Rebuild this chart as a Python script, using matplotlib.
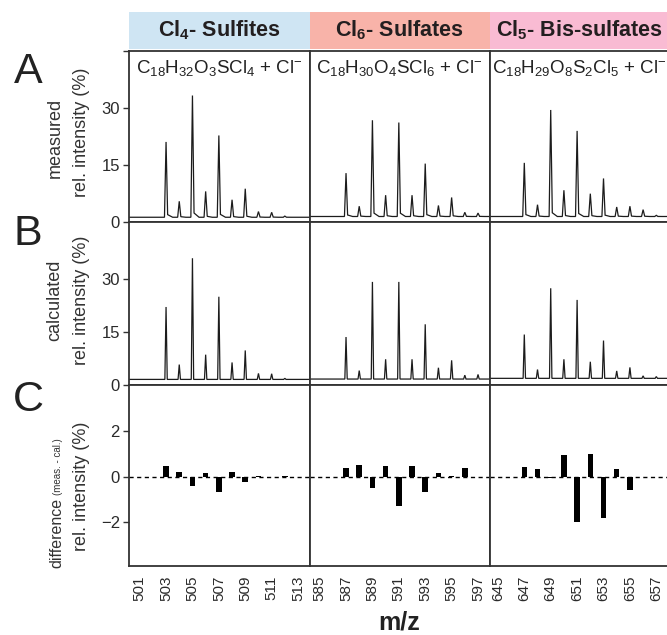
import matplotlib
matplotlib.use('Agg')
import matplotlib.pyplot as plt
from matplotlib.patches import Rectangle

# isotope clusters: m/z of each peak, measured and calculated rel. intensity (%)
mz_sulfites = [503, 504, 505, 506, 507, 508, 509, 510, 511, 512]
meas_sulfites = [21.1, 5.5, 33.3, 8.1, 22.8, 5.9, 8.8, 2.8, 2.6, 1.6]
calc_sulfites = [22.0, 5.7, 35.8, 8.5, 24.9, 6.3, 9.7, 3.2, 3.1, 1.8]
diff_sulfites = [0.49, 0.22, -0.41, 0.19, -0.66, 0.20, -0.24, 0.06, 0.0, 0.04]

mz_sulfates = [587, 588, 589, 590, 591, 592, 593, 594, 595, 596, 597]
meas_sulfates = [12.9, 4.2, 26.8, 7.1, 26.2, 7.1, 15.4, 4.4, 6.5, 2.6, 2.4]
calc_sulfates = [13.5, 4.0, 29.1, 7.2, 29.1, 7.2, 17.1, 4.8, 6.9, 2.7, 2.9]
diff_sulfates = [0.41, 0.52, -0.47, 0.46, -1.27, 0.49, -0.68, 0.18, 0.02, 0.37]

mz_bis = [647, 648, 649, 650, 651, 652, 653, 654, 655, 656, 657]
meas_bis = [15.6, 4.6, 29.5, 8.4, 24.0, 7.5, 11.5, 4.0, 4.2, 3.3, 1.8]
calc_bis = [14.2, 4.3, 27.3, 7.2, 24.0, 6.5, 12.5, 3.9, 4.9, 2.5, 2.3]
diff_bis = [0.44, 0.34, -0.06, 0.96, -1.99, 0.99, -1.80, 0.34, -0.56]

# spectrum baselines (rel. intensity %)
meas_base = [1.3, 1.5, 1.5]
calc_base = [1.5, 1.6, 1.8]

group_titles = [r'Cl$_\mathbf{4}$- Sulfites', r'Cl$_\mathbf{6}$- Sulfates',
                r'Cl$_\mathbf{5}$- Bis-sulfates']
formulas = [r'C$_{18}$H$_{32}$O$_3$SCl$_4$ + Cl$^{-}$',
            r'C$_{18}$H$_{30}$O$_4$SCl$_6$ + Cl$^{-}$',
            r'C$_{18}$H$_{29}$O$_8$S$_2$Cl$_5$ + Cl$^{-}$']
tick_sets = [list(range(501, 514, 2)), list(range(585, 598, 2)), list(range(645, 658, 2))]

mz_all = [mz_sulfites, mz_sulfates, mz_bis]
meas_all = [meas_sulfites, meas_sulfates, meas_bis]
calc_all = [calc_sulfites, calc_sulfates, calc_bis]
diff_all = [diff_sulfites, diff_sulfates, diff_bis]

header_colors = ['#cfe5f3', '#f8b3a9', '#f9bbd3']

FONT = 'Liberation Sans'
plt.rcParams['font.family'] = FONT
plt.rcParams['mathtext.fontset'] = 'custom'
plt.rcParams['mathtext.rm'] = FONT
plt.rcParams['mathtext.it'] = FONT + ':italic'
plt.rcParams['mathtext.bf'] = FONT + ':bold'

W, H = 667, 635
INK = '#333333'
LINE = '#1c1c1c'

# panel geometry in pixels
col_left = [129, 309.5, 489.5]
col_w = 180.5
rows = [(51, 222.2), (222.2, 384.7), (384.7, 565.7)]
px_per_mz = 13.2
x_centers = [507.03, 591.07, 651.2]
half_span = col_w / (2 * px_per_mz)
x_ranges = [(xc - half_span, xc + half_span) for xc in x_centers]


def fx(px):
    return px / W


def fy(py):
    return 1 - py / H


def draw_spectrum(ax, mz, inten, base, half_w, tail, xlim):
    xs, ys = [xlim[0]], [base]
    for m, h in zip(mz, inten):
        xs += [m - half_w, m, m + half_w, m + 0.5]
        ys += [base, h, base + tail * (h - base), base]
    xs.append(xlim[1])
    ys.append(base)
    ax.plot(xs, ys, color=LINE, lw=0.9, solid_joinstyle='miter')


fig = plt.figure(figsize=(W / 100, H / 100), dpi=100)

for c in range(3):
    x0 = col_left[c]
    axes = []
    for r, (top, bot) in enumerate(rows):
        ax = fig.add_axes([fx(x0), fy(bot), col_w / W, (bot - top) / H])
        ax.set_xlim(*x_ranges[c])
        for s in ax.spines.values():
            s.set_color(INK)
            s.set_linewidth(1.3)
        ax.tick_params(axis='y', direction='out', length=4.5, width=1.0,
                       color=INK, labelcolor='#2a2a2a', labelsize=12, pad=2)
        ax.tick_params(axis='x', length=0, labelcolor='#2a2a2a', labelsize=11,
                       labelrotation=90, pad=7)
        axes.append(ax)
    axA, axB, axC = axes

    draw_spectrum(axA, mz_all[c], meas_all[c], meas_base[c], 0.12, 0.035, x_ranges[c])
    axA.set_ylim(0, 45)
    axA.set_yticks([0, 15, 30, 45])
    axA.set_yticklabels(['0', '15', '30', ''])
    axA.text(0.5, 0.90, formulas[c], transform=axA.transAxes, ha='center',
             va='center', fontsize=13.5, color='#222222')

    draw_spectrum(axB, mz_all[c], calc_all[c], calc_base[c], 0.09, 0.0, x_ranges[c])
    axB.set_ylim(0, 46)
    axB.set_yticks([0, 15, 30])

    diffs = diff_all[c]
    axC.bar(mz_all[c][:len(diffs)], diffs, width=0.42, color='black')
    axC.axhline(0, color='black', lw=1.0, dashes=(3, 2.5))
    axC.set_ylim(-3.9, 4.05)
    axC.set_yticks([-2, 0, 2])
    axC.set_xticks(tick_sets[c])

    for ax in (axA, axB):
        ax.set_xticks([])
    if c > 0:
        for ax in axes:
            ax.set_yticks([])

    # coloured group header above each column
    fig.patches.append(Rectangle((fx(x0), fy(49)), col_w / W, 37 / H,
                                 transform=fig.transFigure, facecolor=header_colors[c],
                                 edgecolor='none', zorder=0))
    fig.text(fx(x0 + col_w / 2), fy(30.5), group_titles[c], ha='center', va='center',
             fontsize=15.5, fontweight='bold', color='#231f20')

# axis titles on the left
ylab = dict(rotation=90, ha='center', va='center', color=INK)
fig.text(fx(55), fy(138), 'measured', fontsize=13, **ylab)
fig.text(fx(81), fy(132), 'rel. intensity (%)', fontsize=13, **ylab)
fig.text(fx(55), fy(300), 'calculated', fontsize=13, **ylab)
fig.text(fx(81), fy(300), 'rel. intensity (%)', fontsize=13, **ylab)
fig.text(fx(81), fy(486), 'rel. intensity (%)', fontsize=13, **ylab)

# "difference" followed by a smaller "(meas. - cal.)" on the same baseline
anchor = dict(rotation=90, rotation_mode='anchor', ha='left', va='baseline', color=INK)
t_diff = fig.text(fx(61), fy(568), 'difference', fontsize=11.5, **anchor)
fig.canvas.draw()
diff_len = t_diff.get_window_extent(fig.canvas.get_renderer()).height
fig.text(fx(61), fy(568 - diff_len - 3), '(meas. - cal.)', fontsize=7, **anchor)

for letter, y in zip('ABC', [72, 234, 400]):
    fig.text(fx(28), fy(y), letter, fontsize=31, ha='center', va='center', color='#222222')

fig.text(fx(399), fy(623), 'm/z', fontsize=18, fontweight='bold', ha='center',
         va='center', color='#222222')

fig.savefig('out.png', dpi=100)
